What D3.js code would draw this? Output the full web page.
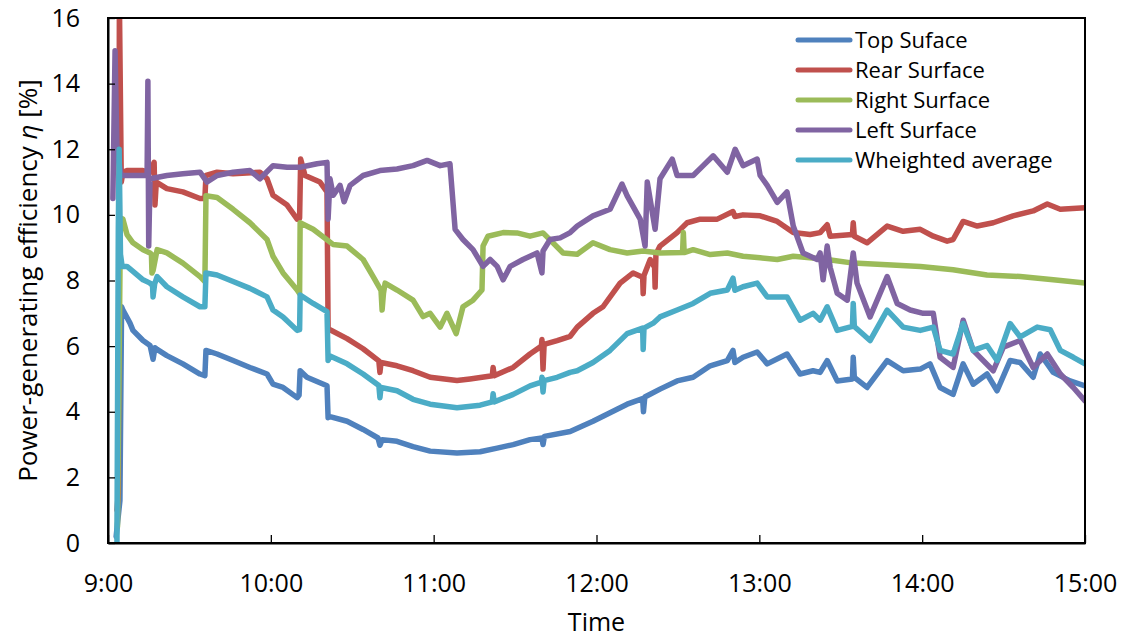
<!DOCTYPE html>
<html>
<head>
<meta charset="utf-8">
<script src="https://cdn.jsdelivr.net/npm/d3@7"></script>
<style>
  body { margin: 0; background: #fff; }
  svg { display: block; font-family: "Open Sans", "Noto Sans", sans-serif; }
</style>
</head>
<body>
<div id="chart"></div>
<script>
// minutes after 9:00, efficiency [%]
var topSurface = [[3.0,0.2],[4.4,1.3],[5.0,7.2],[5.5,7.1],[8.1,6.7],[9.2,6.48],[12.9,6.17],[15.5,6.02],[16.6,5.6],[17.3,5.95],[18.1,5.9],
  [21.7,5.71],[27.6,5.46],[33.9,5.15],[35.7,5.1],[36.1,5.87],[40.2,5.76],[46.1,5.56],[52.3,5.35],[58.6,5.15],[60.8,4.84],[64.5,4.74],
  [69.7,4.43],[70.4,4.5],[70.8,5.25],[73.3,5.05],[80.7,4.79],[81.1,3.82],[81.8,3.85],[88.1,3.71],[94.0,3.46],[99.5,3.2],[100.2,2.98],
  [101.0,3.15],[106.5,3.1],[112.4,2.94],[118.7,2.8],[128.6,2.74],[137.1,2.78],[143.4,2.89],[149.3,3.0],[155.5,3.15],[159.9,3.2],
  [160.3,3.0],[160.8,3.25],[170.3,3.4],[178.7,3.71],[185.0,3.97],[191.3,4.23],[197.0,4.4],[197.3,4.0],[197.8,4.45],[203.4,4.69],
  [209.7,4.94],[215.6,5.05],[221.9,5.4],[228.2,5.56],[230.3,5.87],[231.0,5.5],[234.0,5.66],[239.2,5.82],[242.9,5.46],[250.2,5.76],
  [255.0,5.15],[259.8,5.25],[262.4,5.2],[265.0,5.56],[268.7,4.94],[274.3,5.0],[274.6,5.66],[275.0,5.05],[279.7,4.74],[287.1,5.56],
  [293.0,5.25],[299.3,5.3],[302.9,5.46],[306.6,4.74],[311.4,4.53],[315.1,5.46],[318.8,4.84],[323.9,5.15],[327.6,4.64],[332.4,5.56],
  [336.1,5.5],[340.9,5.05],[343.5,5.76],[348.3,5.2],[354.5,4.94],[360.0,4.79]];

var rearSurface = [[3.3,1.0],[3.8,1.5],[4.2,16.5],[4.9,11.0],[5.5,11.3],[7.0,11.35],[12.9,11.35],[15.5,11.3],[17.0,11.6],[17.3,10.3],
  [17.8,11.0],[21.7,10.8],[27.6,10.7],[33.9,10.5],[35.7,10.5],[36.1,11.2],[40.2,11.3],[46.1,11.25],[56.0,11.3],[58.6,11.1],[60.8,10.6],
  [66.0,10.3],[69.7,9.87],[70.6,9.9],[71.0,11.7],[72.6,11.2],[78.1,11.0],[80.7,10.7],[81.1,6.53],[81.8,6.5],[88.1,6.23],[94.0,5.92],
  [99.8,5.55],[100.2,5.2],[100.6,5.5],[106.5,5.4],[112.4,5.25],[118.7,5.05],[128.6,4.95],[133.4,5.0],[141.6,5.1],[141.9,5.35],
  [142.3,5.1],[149.3,5.35],[155.5,5.76],[159.7,6.0],[159.9,6.2],[160.3,5.3],[160.7,6.05],[165.5,6.17],[170.3,6.3],[172.9,6.58],
  [178.7,7.0],[182.4,7.2],[188.7,7.92],[193.5,8.23],[197.0,8.1],[197.2,7.6],[197.5,8.15],[199.8,8.64],[201.4,8.4],[201.6,7.8],
  [201.9,8.8],[203.4,9.05],[209.7,9.46],[213.4,9.76],[218.2,9.87],[224.5,9.87],[230.3,10.1],[231.0,9.95],[234.0,10.0],[240.3,9.97],
  [246.6,9.8],[252.5,9.46],[258.7,9.4],[262.4,9.46],[265.0,9.7],[266.1,9.35],[274.3,9.4],[274.6,9.76],[275.0,9.35],[279.7,9.15],
  [287.1,9.66],[293.0,9.5],[299.3,9.56],[304.1,9.35],[309.2,9.2],[311.4,9.25],[315.1,9.8],[320.3,9.66],[326.2,9.76],[333.5,9.97],
  [340.9,10.12],[346.1,10.33],[350.9,10.17],[360.0,10.22]];

var rightSurface = [[3.5,0.5],[4.6,9.9],[5.5,9.87],[7.0,9.4],[9.2,9.15],[12.9,8.94],[15.5,8.84],[16.0,8.8],[16.2,8.23],[16.6,8.3],
  [18.1,8.94],[21.7,8.84],[27.6,8.53],[33.9,8.12],[35.7,7.97],[36.1,10.58],[40.2,10.53],[46.1,10.17],[52.3,9.76],[58.6,9.25],
  [60.8,8.74],[64.5,8.23],[69.7,7.71],[70.6,7.6],[70.8,9.76],[75.6,9.56],[82.9,9.1],[88.1,9.05],[94.0,8.64],[97.7,8.12],[100.6,7.7],
  [101.0,7.1],[101.5,7.6],[102.1,7.92],[106.5,7.71],[112.4,7.4],[116.1,6.9],[118.7,7.0],[122.4,6.58],[124.9,7.0],[128.3,6.38],
  [130.8,7.2],[134.5,7.4],[137.8,7.71],[138.2,9.05],[140.0,9.35],[145.6,9.46],[150.7,9.45],[155.5,9.35],[160.3,9.45],[167.7,8.84],
  [172.9,8.8],[178.7,9.15],[185.0,8.94],[191.3,8.84],[197.2,8.9],[203.4,8.84],[211.7,8.85],[212.0,9.46],[212.3,8.85],[215.6,8.94],
  [221.9,8.79],[228.2,8.84],[234.0,8.74],[240.3,8.69],[246.6,8.64],[252.5,8.74],[258.7,8.69],[265.0,8.64],[274.6,8.53],[287.1,8.48],
  [299.3,8.43],[311.4,8.33],[323.9,8.17],[336.1,8.12],[348.3,8.02],[360.0,7.92]];

var leftSurface = [[1.8,10.5],[2.6,15.0],[3.3,12.0],[4.8,11.2],[5.5,11.2],[12.9,11.2],[14.4,11.2],[14.7,14.07],[15.0,9.05],[15.5,11.1],
  [21.7,11.2],[27.6,11.25],[33.9,11.3],[36.5,11.0],[40.2,11.2],[46.1,11.3],[52.3,11.35],[56.0,11.1],[60.8,11.5],[66.0,11.45],
  [70.8,11.45],[77.0,11.56],[80.7,11.6],[81.1,9.87],[81.8,11.1],[83.0,10.6],[85.5,10.9],[87.0,10.4],[89.2,10.9],[94.0,11.2],
  [100.2,11.35],[106.5,11.4],[112.4,11.5],[117.6,11.66],[122.4,11.5],[126.0,11.56],[127.9,9.56],[130.8,9.25],[134.5,8.94],
  [138.2,8.43],[140.8,8.64],[143.4,8.43],[145.6,8.02],[148.2,8.43],[152.9,8.64],[158.1,8.84],[159.9,8.23],[160.3,8.9],[162.9,9.25],
  [166.6,9.3],[170.3,9.46],[172.9,9.66],[178.7,9.97],[185.0,10.17],[189.4,10.94],[191.3,10.58],[196.1,9.87],[197.9,9.05],[198.7,11.0],
  [201.6,9.56],[203.4,11.1],[207.9,11.7],[209.7,11.2],[215.6,11.2],[219.3,11.5],[223.0,11.8],[228.2,11.3],[231.1,12.0],[234.0,11.5],
  [239.2,11.7],[240.3,11.2],[242.9,10.9],[246.6,10.38],[250.2,10.7],[252.5,9.66],[256.1,8.84],[261.3,8.64],[262.4,8.84],[263.5,8.02],
  [265.0,9.05],[266.1,8.4],[268.7,7.61],[272.4,7.4],[274.6,8.84],[276.0,7.92],[280.8,6.89],[287.1,8.12],[290.8,7.3],[295.6,7.1],
  [300.4,7.0],[304.1,7.0],[306.6,5.66],[311.4,5.35],[315.1,6.79],[318.8,5.87],[326.2,5.25],[329.9,5.97],[336.1,6.17],[340.9,5.35],
  [346.1,5.76],[350.9,5.15],[355.7,4.74],[360.0,4.33]];

var weightedAverage = [[3.3,0],[3.8,9.6],[4.1,12.0],[4.6,8.8],[5.2,8.43],[7.0,8.43],[9.2,8.28],[12.9,8.02],[15.5,7.92],[16.4,7.85],
  [16.6,7.5],[17.2,7.9],[18.1,8.12],[21.7,7.81],[27.6,7.5],[33.9,7.2],[35.7,7.2],[36.1,8.23],[40.2,8.17],[46.1,7.97],[52.3,7.76],
  [58.6,7.5],[60.8,7.1],[64.5,6.89],[69.7,6.48],[70.6,6.5],[70.8,7.56],[75.6,7.3],[80.7,7.05],[81.1,5.56],[81.8,5.7],[88.1,5.46],
  [94.0,5.15],[99.8,4.8],[100.2,4.43],[100.6,4.74],[106.5,4.64],[112.4,4.38],[118.7,4.23],[128.6,4.12],[137.1,4.2],[141.6,4.3],
  [141.9,4.55],[142.3,4.3],[149.3,4.53],[155.5,4.79],[159.7,4.9],[159.9,5.05],[160.3,4.6],[160.7,4.95],[165.5,5.05],[170.3,5.2],
  [172.9,5.25],[178.7,5.5],[185.0,5.87],[191.3,6.38],[197.0,6.55],[197.2,5.9],[197.5,6.55],[200.9,6.7],[203.4,6.89],[209.7,7.1],
  [215.6,7.3],[221.9,7.61],[228.2,7.71],[230.3,8.07],[231.0,7.7],[234.0,7.81],[239.2,7.92],[242.9,7.5],[250.2,7.5],[255.0,6.79],
  [259.8,7.0],[262.4,6.79],[265.0,7.2],[268.7,6.48],[274.3,6.6],[274.6,7.3],[275.0,6.6],[280.8,6.17],[287.1,7.1],[293.0,6.58],
  [299.3,6.48],[304.1,6.58],[306.6,5.87],[311.4,5.76],[315.1,6.69],[318.8,5.87],[323.9,6.02],[327.6,5.56],[332.4,6.69],[336.1,6.28],
  [342.4,6.58],[347.2,6.5],[350.9,5.87],[355.7,5.66],[360.0,5.46]];

var seriesNames = ["Top Suface", "Rear Surface", "Right Surface", "Left Surface", "Wheighted average"];
var seriesData = [topSurface, rearSurface, rightSurface, leftSurface, weightedAverage];
var colors = ["#4F81BD", "#C0504D", "#9BBB59", "#8064A2", "#4BACC6"];
var yTicks = [0, 2, 4, 6, 8, 10, 12, 14, 16];
var xTickHours = [9, 10, 11, 12, 13, 14, 15];

var margins = { top: 18, left: 108, right: 40, bottom: 97 };
var W = 1125, H = 640;
var width = W - margins.left - margins.right;
var height = H - margins.top - margins.bottom;

var t0 = new Date(2020, 0, 1, 9, 0, 0);
function toTime(m) { return new Date(t0.getTime() + m * 60000); }

var xScale = d3.scaleTime()
        .domain([toTime(0), toTime(360)])
        .range([0, width]);
var yScale = d3.scaleLinear()
        .domain([0, 16])
        .range([height, 0]);

var svg = d3.select('#chart').append('svg')
        .attr('width', W)
        .attr('height', H);

svg.append('clipPath').attr('id', 'plotclip')
    .append('rect')
        .attr('width', width)
        .attr('height', height);

var plot = svg.append('g')
        .attr('transform', 'translate(' + margins.left + ',' + margins.top + ')');

var line = d3.line()
        .x(function(d) { return xScale(toTime(d[0])); })
        .y(function(d) { return yScale(d[1]); });

var lines = plot.append('g').attr('clip-path', 'url(#plotclip)');
seriesData.forEach(function(s, i) {
        lines.append('path')
                .datum(s)
                .attr('fill', 'none')
                .attr('stroke', colors[i])
                .attr('stroke-width', 5.5)
                .attr('stroke-linejoin', 'round')
                .attr('stroke-linecap', 'round')
                .attr('d', line);
});

// frame
plot.append('rect')
        .attr('width', width)
        .attr('height', height)
        .attr('fill', 'none')
        .attr('stroke', '#000')
        .attr('stroke-width', 2);

var hAxis = d3.axisBottom(xScale)
        .tickValues(xTickHours.map(function(h) { return toTime((h - 9) * 60); }))
        .tickFormat(d3.timeFormat('%-H:%M'))
        .tickSizeInner(-8)
        .tickSizeOuter(0)
        .tickPadding(49);
var hGuide = plot.append('g')
        .attr('transform', 'translate(0,' + height + ')')
        .call(hAxis);

var vAxis = d3.axisLeft(yScale)
        .tickValues(yTicks)
        .tickSizeInner(-7)
        .tickSizeOuter(0)
        .tickPadding(28);
var vGuide = plot.append('g').call(vAxis);

[hGuide, vGuide].forEach(function(g) {
        g.select('.domain').attr('stroke', '#000').attr('stroke-width', 2);
        g.selectAll('.tick line').attr('stroke', '#000').attr('stroke-width', 1.3);
        g.selectAll('.tick text')
                .attr('fill', '#000')
                .style('font-size', '25px')
                .style('font-family', '"Open Sans", sans-serif');
});
hGuide.selectAll('.tick text').attr('dy', '0');

// axis titles
svg.append('text')
        .attr('x', margins.left + width / 2)
        .attr('y', 631)
        .attr('text-anchor', 'middle')
        .style('font-size', '25px')
        .text('Time');

var yt = svg.append('text')
        .attr('transform', 'translate(37,' + (margins.top + height / 2) + ') rotate(-90)')
        .attr('text-anchor', 'middle')
        .style('font-size', '26px');
yt.append('tspan').text('Power-generating efficiency ');
yt.append('tspan').style('font-style', 'italic').text('η');
yt.append('tspan').text(' [%]');

// legend
var legend = svg.append('g');
seriesNames.forEach(function(s, i) {
        var ly = 40 + i * 30;
        legend.append('line')
                .attr('x1', 798).attr('x2', 850)
                .attr('y1', ly).attr('y2', ly)
                .attr('stroke', colors[i])
                .attr('stroke-width', 5)
                .attr('stroke-linecap', 'round');
        legend.append('text')
                .attr('x', 855)
                .attr('y', ly)
                .attr('dy', '0.35em')
                .style('font-size', '22px')
                .attr('fill', '#000')
                .text(s);
});
</script>
</body>
</html>
